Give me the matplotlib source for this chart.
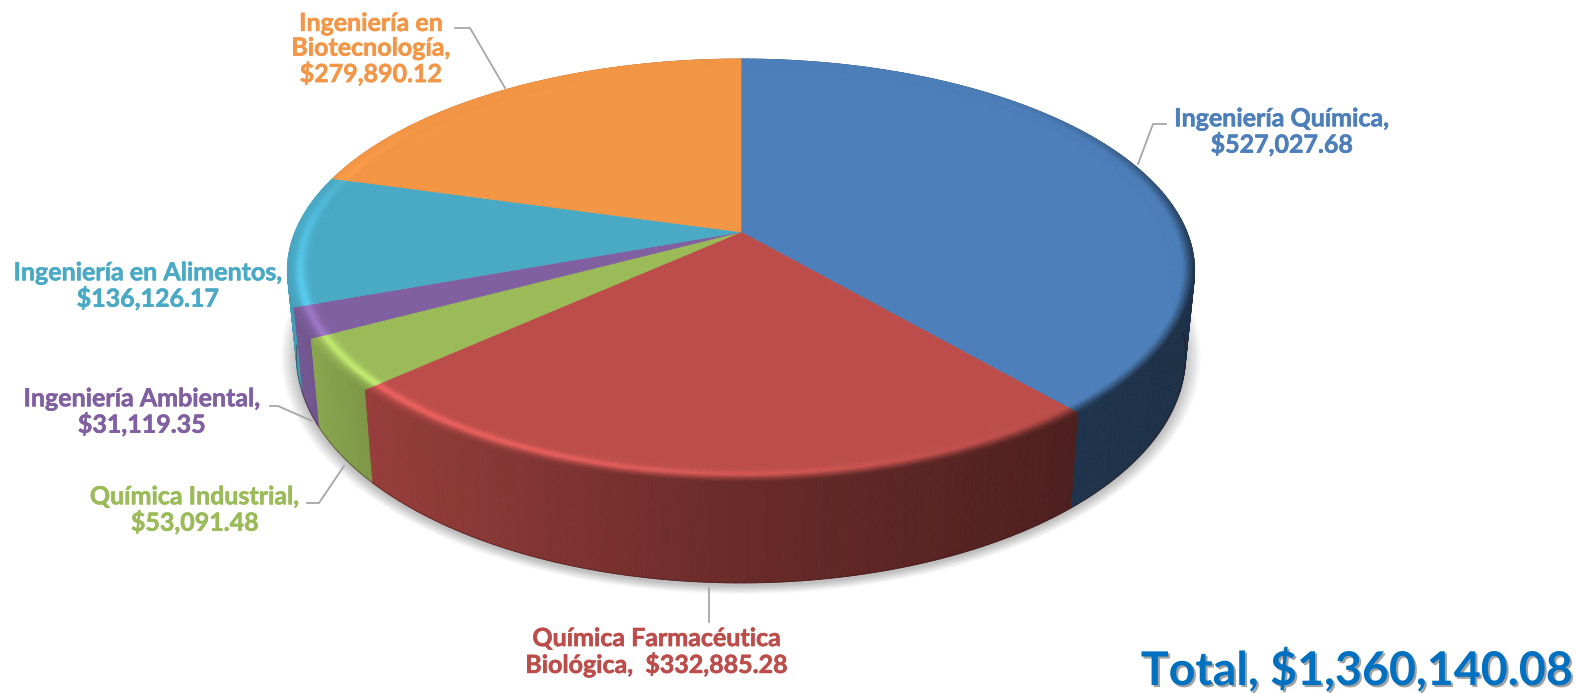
import numpy as np
import matplotlib
matplotlib.use("Agg")
import matplotlib.pyplot as plt
import matplotlib.patheffects as pe
from matplotlib.collections import PolyCollection

names = ["Ingeniería Química", "Química Farmacéutica Biológica", "Química Industrial",
         "Ingeniería Ambiental", "Ingeniería en Alimentos", "Ingeniería en Biotecnología"]
values = [527027.68, 332885.28, 53091.48, 31119.35, 136126.17, 279890.12]
colors = ["#4D7FBA", "#BC4D4A", "#9BBB59", "#8060A0", "#4AAAC6", "#F39646"]
label_texts = ["Ingeniería Química,\n$527,027.68",
               "Química Farmacéutica\nBiológica,  $332,885.28",
               "Química Industrial,\n$53,091.48",
               "Ingeniería Ambiental,\n$31,119.35",
               "Ingeniería en Alimentos,\n$136,126.17",
               "Ingeniería en\nBiotecnología,\n$279,890.12"]
total_text = "Total, $1,360,140.08"

# layout, in pixels of the picture
label_pos = [(1282, 132), (657, 652), (195, 510), (142, 412), (148, 286), (371, 49)]
leaders = [[(1138, 164), (1153, 124), (1166, 124)],
           [(709, 588), (709, 622)],
           [(344, 466), (319, 503), (307, 503)],
           [(312, 421), (278, 406), (270, 406)],
           None,
           [(505, 88), (470, 28), (455, 28)]]

# perspective of the disc
CX, CY = 741, 232
A, B, P = 446, 204.7, 0.183
DEPTH, SHRINK = 82, 0.98


def rim(theta, r=1.0):
    w = 1 + P * r * np.cos(theta)
    return CX + A * r * np.sin(theta) / w, CY - B * r * np.cos(theta) / w


def base_rim(theta):
    x, y = rim(theta)
    w = 1 + P * np.cos(theta)
    return CX + (x - CX) * SHRINK, y + DEPTH / w


def shade(x):
    return np.interp(x, [290, 370, 700, 1100, 1200], [0.92, 0.80, 0.58, 0.40, 0.38])


def rgb(c):
    return np.array(matplotlib.colors.to_rgb(c))


fig = plt.figure(figsize=(15.77, 6.93), dpi=100)
ax = fig.add_axes([0, 0, 1, 1])
ax.set_xlim(0, 1577)
ax.set_ylim(693, 0)
ax.axis("off")

# soft shadow under the pie
tt = np.linspace(0, 2 * np.pi, 360)
bx, by = base_rim(tt)
for grow in np.linspace(1.0, 1.05, 16):
    ax.fill(CX + (bx - CX) * (1 + (grow - 1) * 0.7), 3 + 400 + (by - 400) * (1 + (grow - 1) * 0.9),
            color="black", alpha=0.014, lw=0, zorder=1)

edges = np.cumsum([0] + values) / sum(values) * 2 * np.pi

# outer wall, back to front, shaded across the width
quads, quad_cols, quad_key = [], [], []
for i, c in enumerate(colors):
    n = max(3, int(np.degrees(edges[i + 1] - edges[i])))
    th = np.linspace(edges[i], edges[i + 1], n + 1)
    for a, b in zip(th[:-1], th[1:]):
        x0, y0 = rim(a)
        x1, y1 = rim(b)
        x2, y2 = base_rim(b)
        x3, y3 = base_rim(a)
        quads.append([(x0, y0), (x1, y1), (x2, y2), (x3, y3)])
        quad_cols.append(rgb(c) * shade((x0 + x1) / 2))
        quad_key.append(-np.cos((a + b) / 2))
order = np.argsort(quad_key)
ax.add_collection(PolyCollection([quads[j] for j in order],
                                 facecolors=[quad_cols[j] for j in order],
                                 edgecolors=[quad_cols[j] for j in order],
                                 linewidths=0.6, zorder=2))
front = np.radians(np.linspace(95, 262, 200))
ax.plot(*base_rim(front), color="#300f0f", lw=0.7, alpha=0.45, zorder=2)

# top face: one flat polygon per slice, then a bevel near the rim
R_IN = 0.94
rings = np.linspace(R_IN, 1.0, 13)
polys, cols = [], []
for i, c in enumerate(colors):
    base = rgb(c)
    n = max(3, int(np.degrees(edges[i + 1] - edges[i])))
    th = np.linspace(edges[i], edges[i + 1], n + 1)
    fx, fy = rim(th, R_IN + 0.002)
    ax.fill(np.r_[CX, fx], np.r_[CY, fy], color=c, lw=0.4, ec=c, zorder=3)
    for a, b in zip(th[:-1], th[1:]):
        mid = (a + b) / 2
        xm, _ = rim(mid)
        hi = max(0.0, np.cos(mid - np.radians(225))) ** 2
        lo = max(0.0, np.cos(mid - np.radians(120))) ** 2
        fr = max(lo, max(0.0, -np.cos(mid)) ** 0.5)
        wall = base * shade(xm)
        for r0, r1 in zip(rings[:-1], rings[1:]):
            xa, ya = rim(a, r0)
            xb, yb = rim(b, r0)
            xc, yc = rim(b, r1)
            xd, yd = rim(a, r1)
            polys.append([(xa, ya), (xb, yb), (xc, yc), (xd, yd)])
            p = (r1 - R_IN) / (1 - R_IN)
            col = base * (1 + 0.26 * hi * np.exp(-((p - 0.6) / 0.2) ** 2))
            fade = fr * np.clip((p - 0.62) / 0.38, 0, 1)
            col = col + (wall - col) * fade
            cols.append(np.clip(col, 0, 1))
ax.add_collection(PolyCollection(polys, facecolors=cols, edgecolors=cols,
                                 linewidths=0.5, zorder=3.5))

# leader lines
for pts in leaders:
    if pts is not None:
        ax.plot(*zip(*pts), color="#a6a6a6", lw=1.3, zorder=4)

for txt, pos, c in zip(label_texts, label_pos, colors):
    ax.text(pos[0], pos[1], txt, color=c, fontsize=18, fontweight="bold", family="Lato",
            ha="center", va="center", linespacing=1.09, multialignment="center", zorder=5,
            path_effects=[pe.withStroke(linewidth=0.4, foreground=c)])

ax.text(1572, 685, total_text, color="#0070C0", fontsize=33.5, fontweight="bold", family="Lato",
        ha="right", va="baseline", zorder=5,
        path_effects=[pe.SimplePatchShadow(offset=(1.5, -1.5), shadow_rgbFace="#555555", alpha=0.55),
                      pe.Normal()])

fig.savefig("out.png", dpi=100, facecolor="white")
